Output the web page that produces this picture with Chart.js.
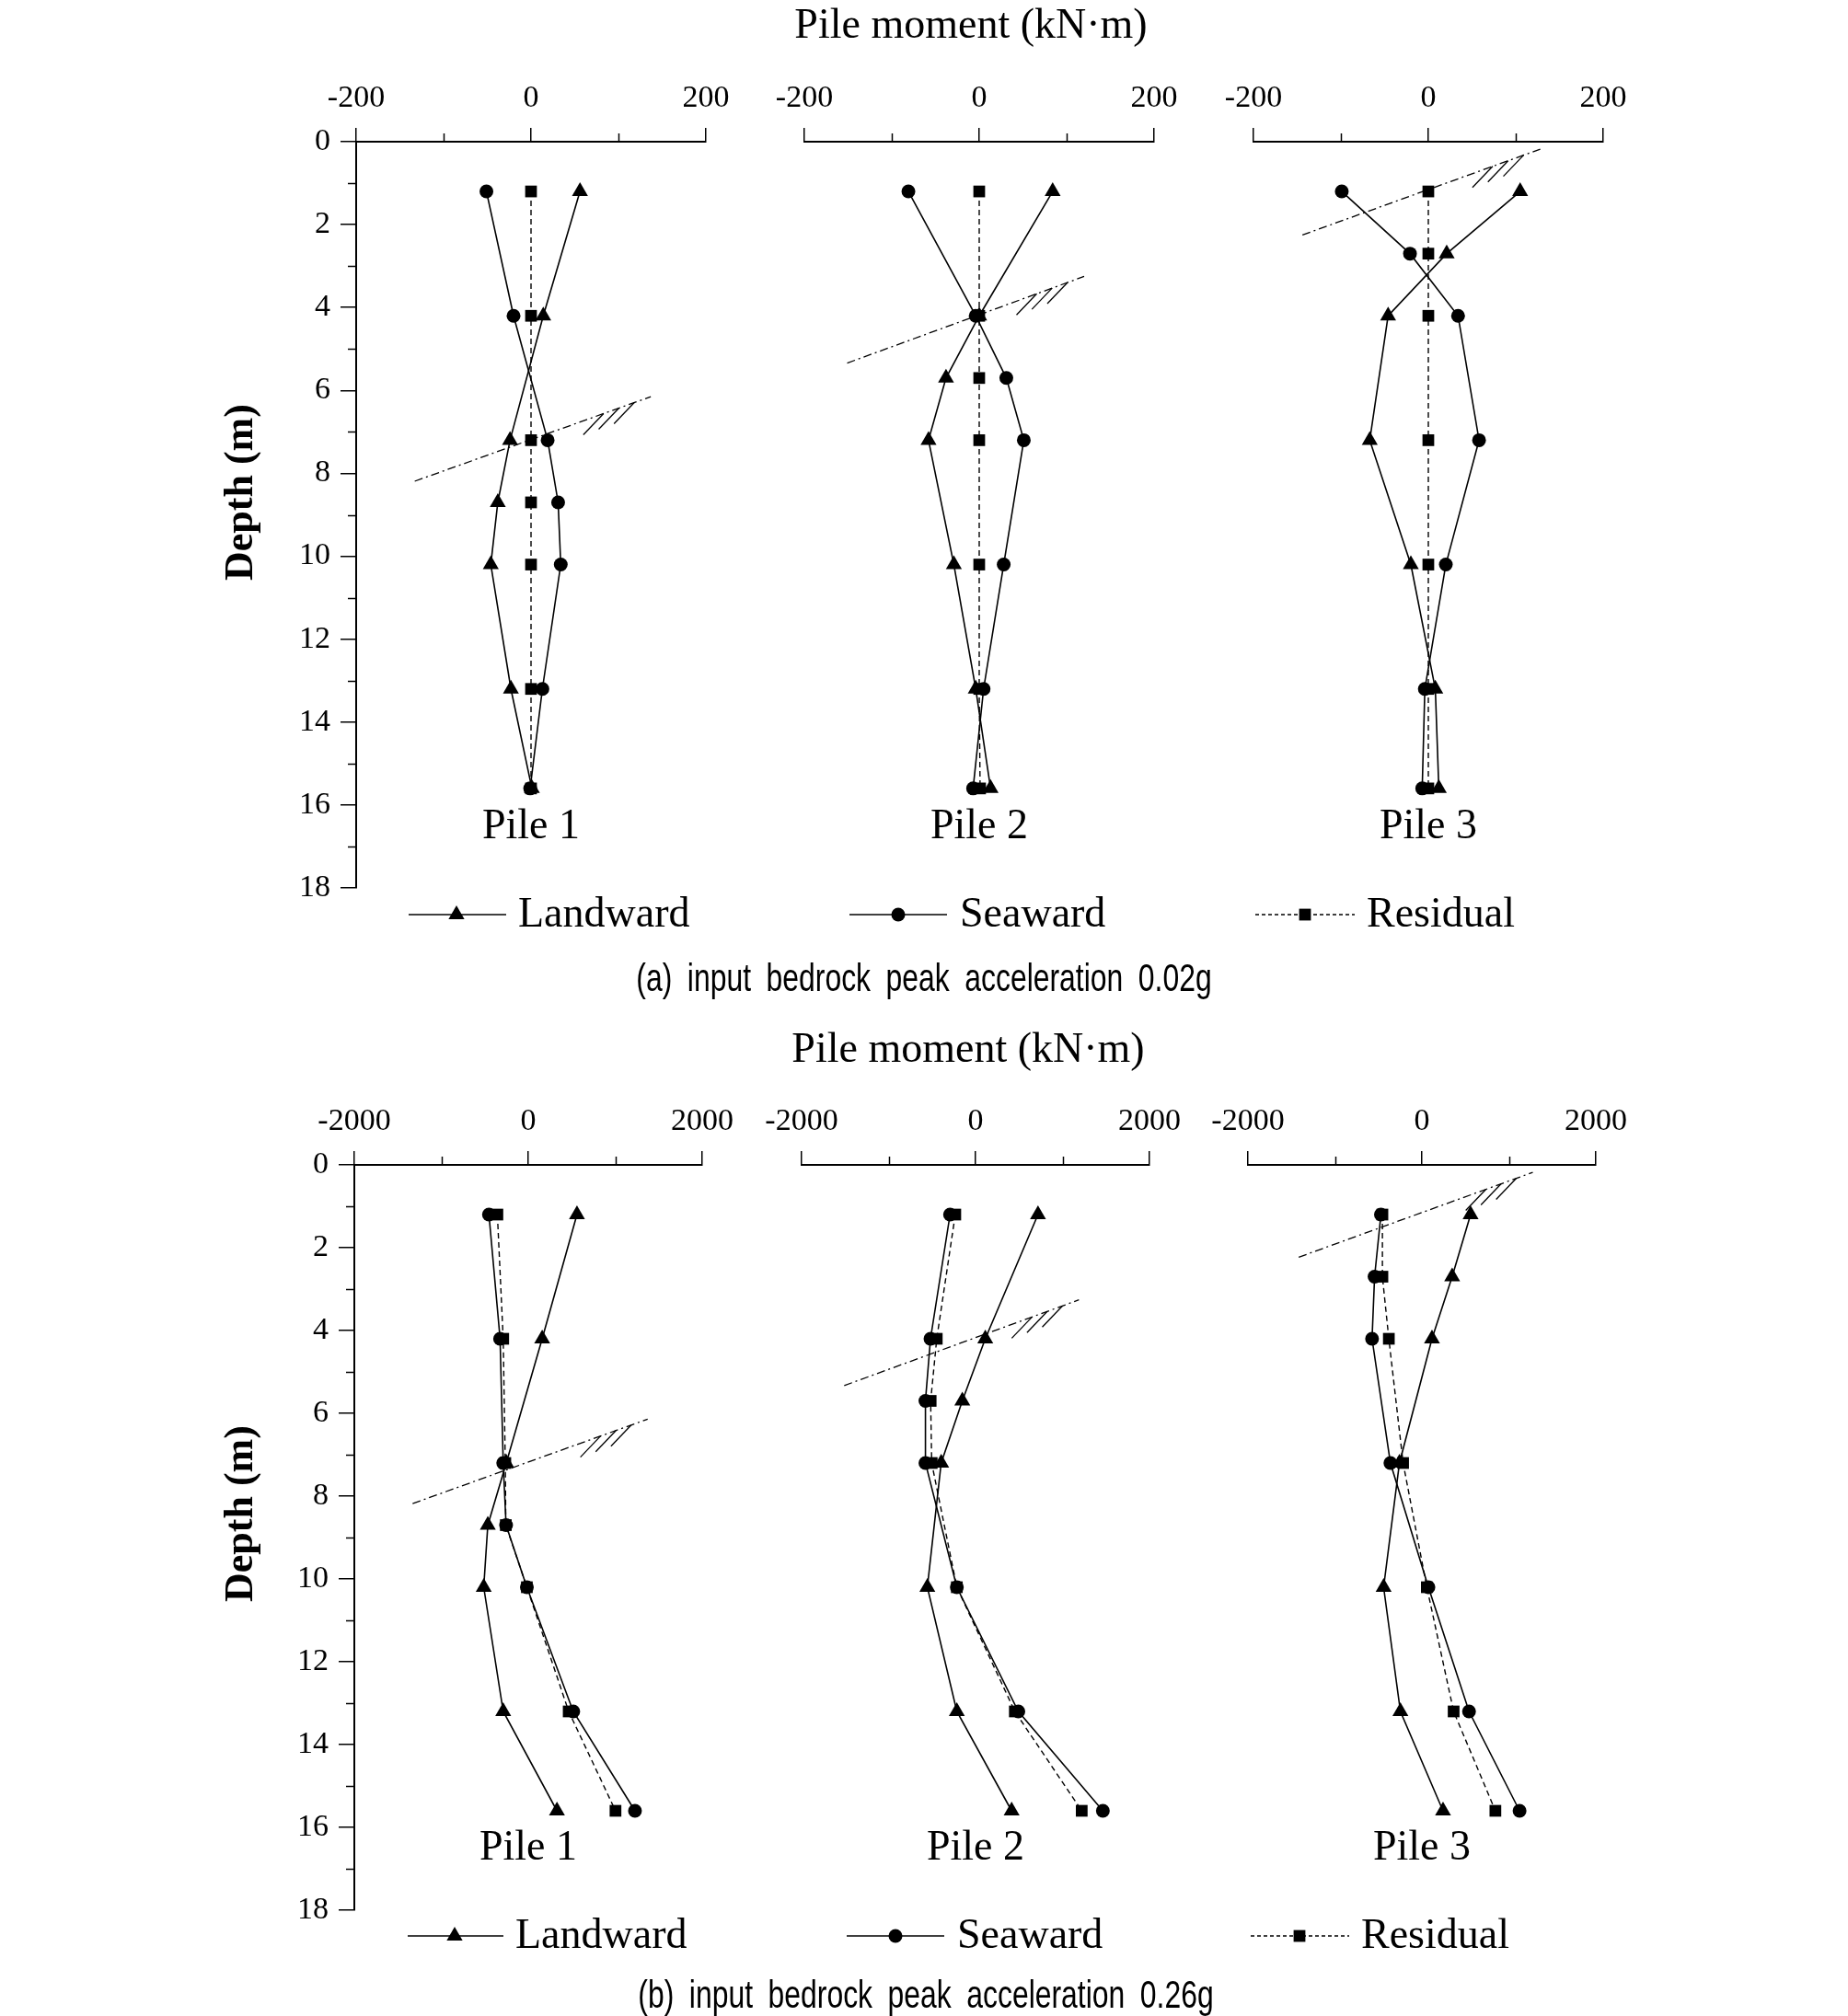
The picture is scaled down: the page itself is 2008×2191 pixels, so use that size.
<!DOCTYPE html>
<html><head><meta charset="utf-8">
<script src="https://cdn.jsdelivr.net/npm/chart.js"></script>
<style>
html,body{margin:0;padding:0;background:#fff;}
body{width:2008px;height:2191px;position:relative;overflow:hidden;}
canvas{position:absolute;}
.t{position:absolute;white-space:nowrap;color:#000;line-height:1;}
.serif{font-family:"Liberation Serif","Times New Roman",serif;}
.sans{font-family:"Liberation Sans",Arial,sans-serif;}
svg{position:absolute;left:0;top:0;}
</style></head><body>
<script>
// ---------------- DATA ----------------
const depthPile1 = [1.2, 4.2, 7.2, 8.7, 10.2, 13.2, 15.6];
const depthPile2 = [1.2, 4.2, 5.7, 7.2, 10.2, 13.2, 15.6];
const depthPile3 = [1.2, 2.7, 4.2, 7.2, 10.2, 13.2, 15.6];

// (a) 0.02g  (kN·m)
const aPile1Landward = [56, 14, -24, -38, -46, -23, 1];
const aPile1Seaward  = [-51, -20, 19, 31, 34, 13, -1];
const aPile1Residual = [0, 0, 0, 0, 0, 0, 0];
const aPile2Landward = [84, 0, -38, -58, -29, -4, 13];
const aPile2Seaward  = [-81, -4, 31, 51, 28, 5, -7];
const aPile2Residual = [0, 0, 0, 0, 0, 0, 1];
const aPile3Landward = [105, 21, -46, -67, -20, 8, 12];
const aPile3Seaward  = [-99, -21, 34, 58, 20, -4, -7];
const aPile3Residual = [0, 0, 0, 0, 0, 0, 0];

// (b) 0.26g  (kN·m)
const bPile1Landward = [560, 160, -253, -465, -512, -288, 330];
const bPile1Seaward  = [-452, -324, -288, -255, -16, 517, 1227];
const bPile1Residual = [-355, -288, -264, -258, -16, 465, 1003];
const bPile2Landward = [718, 112, -152, -395, -554, -215, 415];
const bPile2Seaward  = [-293, -518, -576, -576, -215, 492, 1464];
const bPile2Residual = [-233, -446, -516, -504, -215, 452, 1221];
const bPile3Landward = [560, 348, 116, -258, -440, -247, 243];
const bPile3Seaward  = [-471, -544, -573, -362, 75, 542, 1123];
const bPile3Residual = [-454, -454, -380, -216, 57, 365, 845];

// ground-surface lines [x1, depth1, x2, depth2] per pile
const groundA = [[-133, 8.19, 137, 6.15], [-151, 5.34, 120, 3.25], [-144, 2.25, 128, 0.18]];
const groundB = [[-1330, 8.18, 1373, 6.14], [-1510, 5.33, 1189, 3.26], [-1416, 2.23, 1275, 0.18]];

const pileNames = ['Pile 1', 'Pile 2', 'Pile 3'];
const seriesNames = ['Landward', 'Seaward', 'Residual'];
const depthTicks = [0, 2, 4, 6, 8, 10, 12, 14, 16, 18];
const depthMinor = [1, 3, 5, 7, 9, 11, 13, 15, 17];
const xTicksA = [-200, 0, 200];
const xMinorA = [-100, 100];
const xTicksB = [-2000, 0, 2000];
const xMinorB = [-1000, 1000];

// ---------------- LAYOUT ----------------
const PANELS = [
  {top:154, plotH:811, lefts:[387, 874, 1362], width:380, xTicks:xTicksA, xMinor:xMinorA,
   ground:groundA, depths:[depthPile1, depthPile2, depthPile3],
   series:[[aPile1Landward, aPile1Seaward, aPile1Residual],[aPile2Landward, aPile2Seaward, aPile2Residual],[aPile3Landward, aPile3Seaward, aPile3Residual]]},
  {top:1266, plotH:810, lefts:[385, 871, 1356], width:378, xTicks:xTicksB, xMinor:xMinorB,
   ground:groundB, depths:[depthPile1, depthPile2, depthPile3],
   series:[[bPile1Landward, bPile1Seaward, bPile1Residual],[bPile2Landward, bPile2Seaward, bPile2Residual],[bPile3Landward, bPile3Seaward, bPile3Residual]]}
];
const YW = 100, XH = 80, PR = 60, PB = 40;
const SERIF = '"Liberation Serif","Times New Roman",serif';

const minorTicks = {
  id: 'minorTicks',
  afterDraw(chart, args, o) {
    const ctx = chart.ctx, ca = chart.chartArea;
    ctx.save();
    ctx.strokeStyle = '#000'; ctx.lineWidth = 1.5;
    const xs = chart.scales.x, ys = chart.scales.y;
    (o.xMinor || []).forEach(v => {
      const px = Math.round(xs.getPixelForValue(v)) + 0.5;
      ctx.beginPath(); ctx.moveTo(px, ca.top); ctx.lineTo(px, ca.top - 9); ctx.stroke();
    });
    (o.yMinor || []).forEach(v => {
      const py = Math.round(ys.getPixelForValue(v)) + 0.5;
      ctx.beginPath(); ctx.moveTo(ca.left, py); ctx.lineTo(ca.left - 9, py); ctx.stroke();
    });
    ctx.restore();
  }
};

function pts(xs, ys) { return xs.map((v, i) => ({x: v, y: ys[i]})); }

function makePile(panel, k) {
  const left = panel.lefts[k], w = panel.width;
  const cv = document.createElement('canvas');
  const W = YW + w + PR, H = XH + panel.plotH + PB;
  cv.width = W; cv.height = H;
  cv.style.left = (left - YW) + 'px'; cv.style.top = (panel.top - XH) + 'px';
  cv.style.width = W + 'px'; cv.style.height = H + 'px';
  document.body.appendChild(cv);
  const xmax = panel.xTicks[2];
  const d = panel.depths[k];
  const [land, sea, res] = panel.series[k];
  const g = panel.ground[k];
  const hdx = 22 * (2 * xmax) / w, hdy = 23 * 18 / panel.plotH;
  const hatchFr = [0.80, 0.865, 0.93];
  const datasets = [
    {label: seriesNames[0], data: pts(land, d), showLine: true, borderColor: '#000', borderWidth: 1.6,
     pointStyle: 'triangle', pointRadius: 10, pointBackgroundColor: '#000', pointBorderColor: '#000', pointBorderWidth: 0},
    {label: seriesNames[1], data: pts(sea, d), showLine: true, borderColor: '#000', borderWidth: 1.6,
     pointStyle: 'circle', pointRadius: 7.5, pointBackgroundColor: '#000', pointBorderColor: '#000', pointBorderWidth: 0},
    {label: seriesNames[2], data: pts(res, d), showLine: true, borderColor: '#000', borderWidth: 1.4, borderDash: [6, 4],
     pointStyle: 'rect', pointRadius: 9, pointBackgroundColor: '#000', pointBorderColor: '#000', pointBorderWidth: 0},
    {label: 'ground', data: [{x: g[0], y: g[1]}, {x: g[2], y: g[3]}], showLine: true, borderColor: '#000',
     borderWidth: 1.3, borderDash: [9, 4, 2, 4], pointRadius: 0}
  ];
  hatchFr.forEach(f => {
    const tx = g[0] + f * (g[2] - g[0]), ty = g[1] + f * (g[3] - g[1]);
    datasets.push({label: 'hatch', data: [{x: tx, y: ty}, {x: tx - hdx, y: ty + hdy}], showLine: true,
      borderColor: '#000', borderWidth: 1.3, pointRadius: 0});
  });
  new Chart(cv, {
    type: 'scatter',
    data: {datasets},
    plugins: [minorTicks],
    options: {
      responsive: false, animation: false, devicePixelRatio: 1,
      layout: {padding: {left: 0, right: PR, top: 0, bottom: PB}},
      plugins: {legend: {display: false}, tooltip: {enabled: false},
        minorTicks: {xMinor: panel.xMinor, yMinor: k === 0 ? depthMinor : []}},
      scales: {
        x: {type: 'linear', position: 'top', min: -xmax, max: xmax,
          afterFit: s => { s.height = XH; },
          afterBuildTicks: s => { s.ticks = panel.xTicks.map(v => ({value: v})); },
          ticks: {autoSkip: false, maxRotation: 0, minRotation: 0, padding: 12, color: '#000',
            font: {family: SERIF, size: 34}, callback: v => String(v)},
          grid: {drawOnChartArea: false, drawTicks: true, tickLength: 15, color: '#000', lineWidth: 1.5},
          border: {display: true, color: '#000', width: 2}},
        y: {type: 'linear', position: 'left', min: 0, max: 18, reverse: true, display: k === 0,
          afterFit: s => { s.width = YW; },
          afterBuildTicks: s => { s.ticks = depthTicks.map(v => ({value: v})); },
          ticks: {autoSkip: false, padding: 11, color: '#000', font: {family: SERIF, size: 34}, callback: v => String(v)},
          grid: {drawOnChartArea: false, drawTicks: true, tickLength: 17, color: '#000', lineWidth: 1.5},
          border: {display: true, color: '#000', width: 2}}
      }
    }
  });
}
PANELS.forEach(p => { for (let k = 0; k < 3; k++) makePile(p, k); });

// ---------------- TEXT ----------------
function text(str, x, baseline, size, cls, opts) {
  opts = opts || {};
  const el = document.createElement('div');
  el.className = 't ' + cls;
  el.textContent = str;
  el.style.fontSize = size + 'px';
  const k = cls === 'sans' ? 0.8465 : 0.8375;
  el.style.top = (baseline - k * size) + 'px';
  el.style.left = x + 'px';
  if (opts.weight) el.style.fontWeight = opts.weight;
  if (opts.ws) el.style.wordSpacing = opts.ws + 'px';
  let tr = '';
  if (opts.align === 'center') tr += 'translateX(-50%) ';
  if (opts.sx) tr += 'scaleX(' + opts.sx + ')';
  if (tr) el.style.transform = tr;
  document.body.appendChild(el);
  return el;
}
function rotated(str, cx, cy, size) {
  const el = document.createElement('div');
  el.className = 't serif';
  el.textContent = str;
  el.style.fontSize = size + 'px';
  el.style.fontWeight = 'bold';
  el.style.left = cx + 'px'; el.style.top = cy + 'px';
  el.style.transform = 'translate(-50%,-50%) rotate(-90deg)';
  document.body.appendChild(el);
}

const titleText = 'Pile moment (kN·m)';
const depthLabel = 'Depth (m)';
const captions = ['(a) input bedrock peak acceleration 0.02g', '(b) input bedrock peak acceleration 0.26g'];

const TXT = [
  {title:[1055, 42], depth:[260, 535], pileBase: 912, legY: 994, legBase: 1008,
   leg: [[444, 550, 496, 563], [923, 1029, 976, 1043], [1364, 1472, 1418, 1485]], cap:[1004, 1078]},
  {title:[1052, 1155], depth:[260, 1645], pileBase: 2022, legY: 2104, legBase: 2118,
   leg: [[443, 547, 494, 560], [920, 1026, 973, 1040], [1359, 1466, 1412, 1479]], cap:[1006, 2183]}
];

const NS = 'http://www.w3.org/2000/svg';
const svg = document.createElementNS(NS, 'svg');
svg.setAttribute('width', 2008); svg.setAttribute('height', 2191);
document.body.appendChild(svg);
function sv(tag, attrs) { const e = document.createElementNS(NS, tag); for (const a in attrs) e.setAttribute(a, attrs[a]); svg.appendChild(e); return e; }

TXT.forEach((T, pi) => {
  const P = PANELS[pi];
  text(titleText, T.title[0], T.title[1], 46, 'serif', {align: 'center'});
  rotated(depthLabel, T.depth[0], T.depth[1], 44);
  P.lefts.forEach((l, k) => text(pileNames[k], l + P.width / 2, T.pileBase, 46, 'serif', {align: 'center'}));
  T.leg.forEach((L, si) => {
    const y = T.legY;
    sv('line', {x1: L[0], y1: y, x2: L[1], y2: y, stroke: '#000', 'stroke-width': si === 2 ? 1.3 : 1.6,
      'stroke-dasharray': si === 2 ? '4 3' : 'none'});
    const cx = L[2];
    if (si === 0) {
      const r = 10;
      sv('polygon', {points: `${cx},${y - r} ${cx + r * 0.866},${y + r / 2} ${cx - r * 0.866},${y + r / 2}`, fill: '#000'});
    } else if (si === 1) {
      sv('circle', {cx: cx, cy: y, r: 7.5, fill: '#000'});
    } else {
      sv('rect', {x: cx - 6.4, y: y - 6.4, width: 12.8, height: 12.8, fill: '#000'});
    }
    text(seriesNames[si], L[3], T.legBase, 46, 'serif');
  });
  text(captions[pi], T.cap[0], T.cap[1], 42, 'sans', {align: 'center', sx: 0.76, ws: 10});
});
</script>
</body></html>
